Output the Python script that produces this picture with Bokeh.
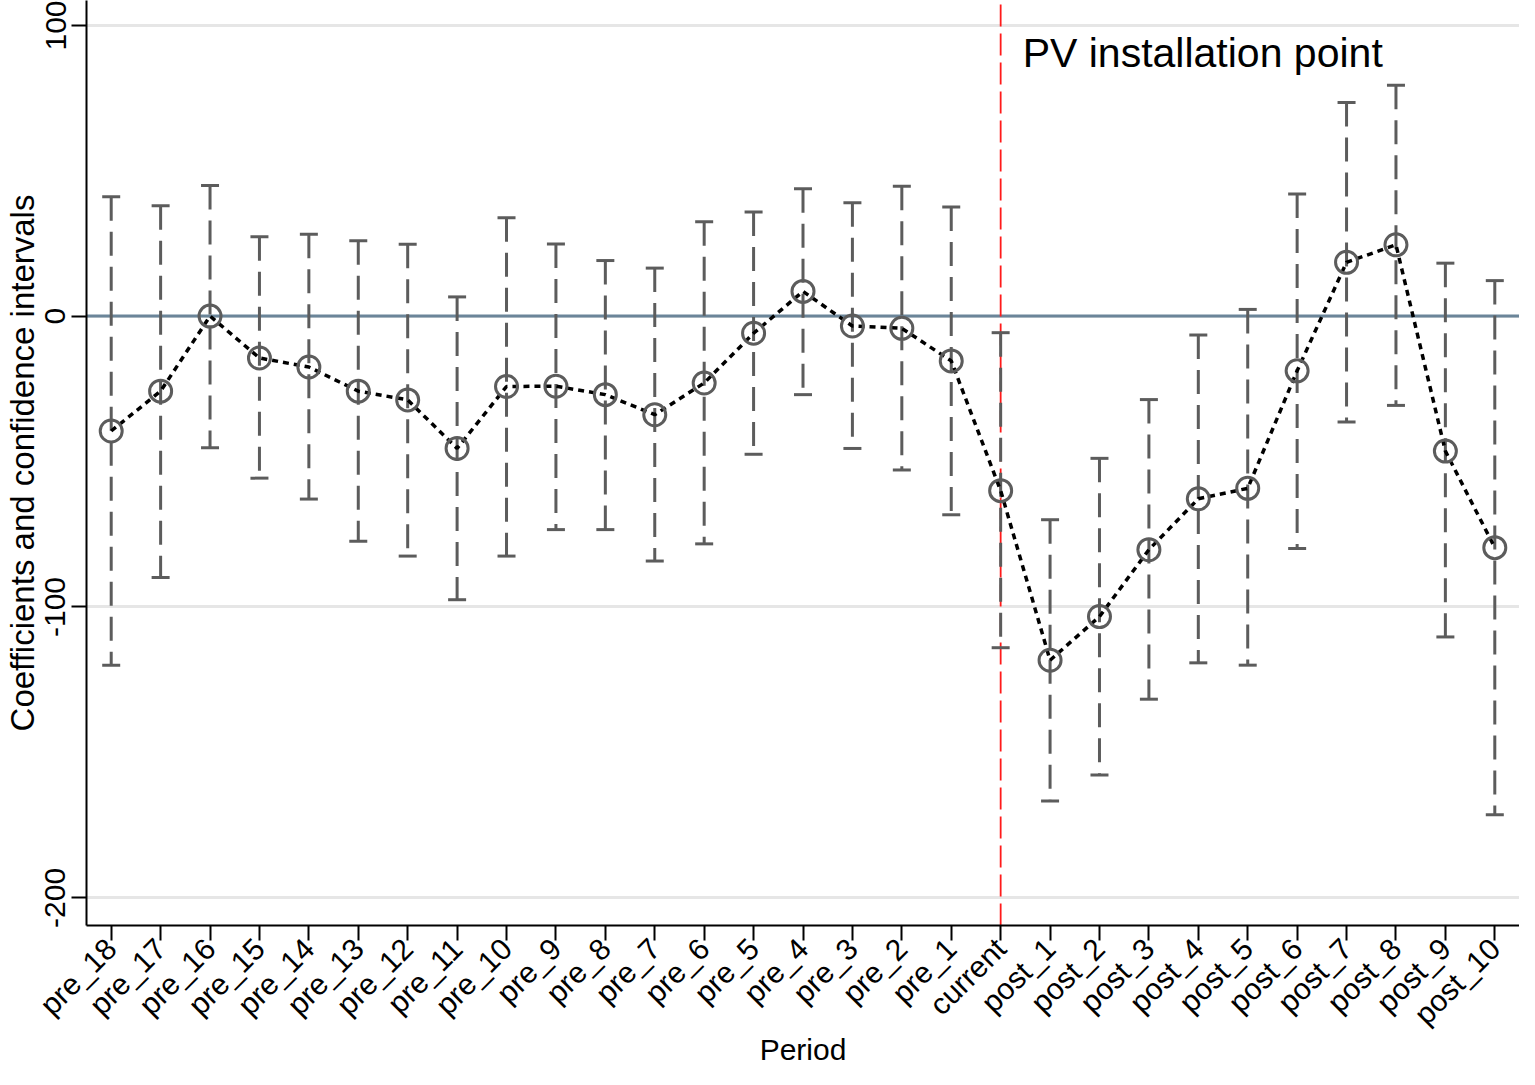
from bokeh.plotting import figure
from bokeh.models import FactorRange, FixedTicker, Span, Range1d, CustomJSTickFormatter
from bokeh.core.properties import value
from bokeh.embed import file_html
from bokeh.resources import INLINE
import math

# periods around the PV installation
periods = ["pre_18", "pre_17", "pre_16", "pre_15", "pre_14", "pre_13", "pre_12",
           "pre_11", "pre_10", "pre_9", "pre_8", "pre_7", "pre_6", "pre_5", "pre_4",
           "pre_3", "pre_2", "pre_1", "current", "post_1", "post_2", "post_3",
           "post_4", "post_5", "post_6", "post_7", "post_8", "post_9", "post_10"]

coef = [-39.5, -25.8, 0.0, -14.4, -17.5, -25.8, -28.8, -45.5, -24.2, -24.1,
        -27.0, -33.9, -23.0, -5.9, 8.5, -3.4, -4.2, -15.4, -60.0, -118.3,
        -103.3, -80.3, -62.8, -59.2, -18.8, 18.5, 24.5, -46.4, -79.6]

ci_upper = [41.0, 37.9, 44.9, 27.3, 28.1, 25.9, 24.7, 6.6, 33.8, 24.8,
            19.1, 16.5, 32.4, 35.8, 43.8, 39.0, 44.6, 37.5, -5.7, -70.0,
            -48.9, -28.7, -6.5, 2.3, 42.0, 73.4, 79.4, 18.2, 12.2]

ci_lower = [-120.0, -89.9, -45.3, -55.7, -62.9, -77.4, -82.5, -97.5, -82.5, -73.4,
            -73.4, -84.2, -78.3, -47.5, -27.0, -45.5, -52.9, -68.3, -114.0, -166.7,
            -157.8, -131.7, -119.2, -120.0, -79.9, -36.4, -30.7, -110.3, -171.4]

y_ticks = [-200, -100, 0, 100]
y_min, y_max = -209.5, 108.5
event_period = "current"
event_text = "PV installation point"

FONT = "Liberation Sans"
GRAY = "#5c5c5c"

p = figure(x_range=FactorRange(*periods), y_range=Range1d(y_min, y_max),
           width=1519, height=1069, output_backend="svg", toolbar_location=None,
           min_border_left=82, min_border_top=0, min_border_right=0,
           min_border_bottom=140)
p.outline_line_color = None
p.background_fill_color = "white"

# grid
p.xgrid.grid_line_color = None
p.ygrid.ticker = FixedTicker(ticks=y_ticks)
p.ygrid.grid_line_color = "#e6e6e6"
p.ygrid.grid_line_width = 3

# zero line and installation marker
p.add_layout(Span(location=0, dimension="width", line_color="#6b8599",
                  line_width=3, level="underlay"))
p.segment(x0=[event_period], x1=[event_period], y0=[y_min], y1=[y_max],
          line_color="#ff1a1a", line_width=1.8, line_dash="22 7")

# confidence intervals
p.segment(x0=periods, x1=periods, y0=ci_upper, y1=ci_lower,
          line_color=GRAY, line_width=3, line_dash="24 11")
p.scatter(x=periods, y=ci_upper, marker="dash", size=18,
          line_color=GRAY, line_width=3)
p.scatter(x=periods, y=ci_lower, marker="dash", size=18,
          line_color=GRAY, line_width=3)

# coefficients
p.line(x=periods, y=coef, line_color="black", line_width=3.5, line_dash="6 5")
p.scatter(x=periods, y=coef, marker="circle", size=22, fill_color=None,
          line_color=GRAY, line_width=3)

p.text(x=[event_period], y=[90.4], text=[event_text], x_offset=22,
       text_font=value(FONT), text_font_size="41px", text_color="black",
       text_baseline="alphabetic", text_align="left")

# axes
p.yaxis.ticker = FixedTicker(ticks=y_ticks)
p.yaxis.formatter = CustomJSTickFormatter(code="return tick.toFixed(0);")
p.yaxis.major_label_orientation = "vertical"
p.yaxis.axis_label = "Coefficients and confidence intervals"
p.xaxis.axis_label = "Period"
p.xaxis.major_label_orientation = math.pi / 4

for ax in (p.xaxis, p.yaxis):
    ax.axis_line_color = "black"
    ax.axis_line_width = 2
    ax.major_tick_line_color = "black"
    ax.major_tick_line_width = 2
    ax.major_tick_out = 15
    ax.major_tick_in = 0
    ax.minor_tick_line_color = None
    ax.major_label_text_font = FONT
    ax.major_label_text_color = "black"
    ax.axis_label_text_font = FONT
    ax.axis_label_text_font_style = "normal"
    ax.axis_label_text_color = "black"

p.yaxis.major_label_text_font_size = "30px"
p.yaxis.major_label_standoff = 6
p.yaxis.axis_label_text_font_size = "33px"
p.yaxis.axis_label_standoff = 2
p.xaxis.major_label_text_font_size = "30px"
p.xaxis.major_label_standoff = 3
p.xaxis.axis_label_text_font_size = "30px"
p.xaxis.axis_label_standoff = -12

open("out.html", "w").write(file_html(p, INLINE))
